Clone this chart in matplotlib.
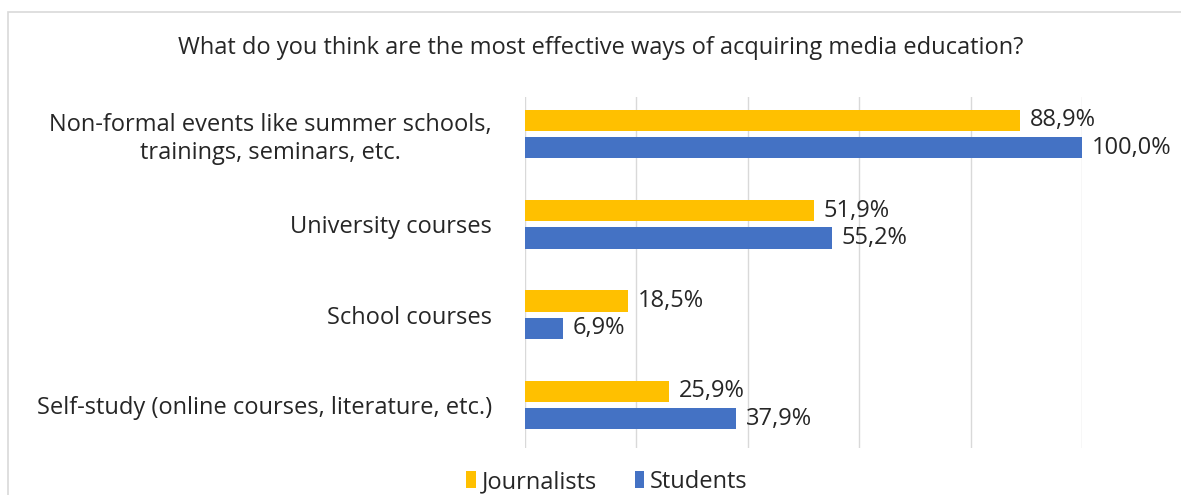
import matplotlib.pyplot as plt
from matplotlib.patches import Rectangle

categories = [
    "Non-formal events like summer schools,\ntrainings, seminars, etc.",
    "University courses",
    "School courses",
    "Self-study (online courses, literature, etc.)",
]
journalists = [88.9, 51.9, 18.5, 25.9]
students = [100.0, 55.2, 6.9, 37.9]
series_names = ["Journalists", "Students"]

YELLOW = "#FFC000"
BLUE = "#4472C4"
TEXT = "#262626"

plt.rcParams["font.family"] = ["Open Sans", "DejaVu Sans"]
FS = 17

fig = plt.figure(figsize=(11.81, 4.95), dpi=100)
ax = fig.add_axes([525 / 1181, 1 - 448 / 495, 557 / 1181, 351 / 495])

# light frame around the chart area
fig.patches.append(Rectangle((8 / 1181, -0.1), 1.2, 1 - 12 / 495 + 0.1,
                             transform=fig.transFigure, fill=False,
                             edgecolor="#d9d9d9", linewidth=1.2))

pos = list(range(len(categories)))
off = 0.152
h = 0.235
b1 = ax.barh([p - off for p in pos], journalists, height=h, color=YELLOW, label=series_names[0])
b2 = ax.barh([p + off for p in pos], students, height=h, color=BLUE, label=series_names[1])

for bars, vals in ((b1, journalists), (b2, students)):
    for bar, v in zip(bars, vals):
        ax.text(v + 1.7, bar.get_y() + bar.get_height() / 2,
                f"{v:.1f}%".replace(".", ","), va="center", ha="left",
                fontsize=FS, color=TEXT)

ax.set_xlim(0, 100)
ax.set_ylim(3.476, -0.41)
ax.set_xticks([0, 20, 40, 60, 80, 100])
ax.set_xticklabels([])
ax.tick_params(axis="x", length=0)
ax.grid(axis="x", color="#d9d9d9", linewidth=1)
ax.set_axisbelow(True)
for s in ax.spines.values():
    s.set_visible(False)

ax.set_yticks(pos)
ax.set_yticklabels(categories, fontsize=FS, color=TEXT, multialignment="center",
                   linespacing=1.2)
ax.tick_params(axis="y", length=0, pad=24)

fig.text(601 / 1181, 1 - 48 / 495,
         "What do you think are the most effective ways of acquiring media education?",
         ha="center", va="center", fontsize=FS, color=TEXT)

fig.legend(handles=[b1, b2], labels=series_names, loc="center",
           bbox_to_anchor=(607 / 1181, 1 - 482 / 495), ncol=2, frameon=False,
           fontsize=FS, handlelength=0.4, handleheight=0.7, handletextpad=0.25,
           columnspacing=1.6, labelcolor=TEXT)

fig.savefig("out.png", dpi=100)
